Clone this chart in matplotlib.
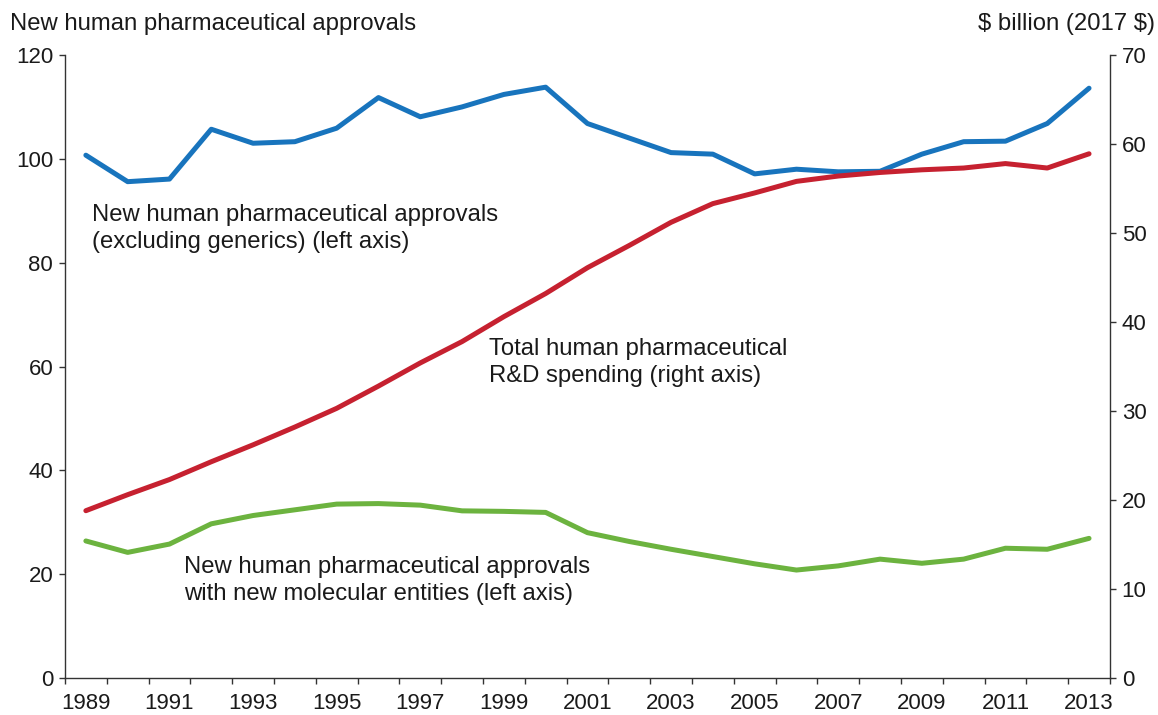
import numpy as np
import matplotlib.pyplot as plt
from matplotlib.ticker import FixedLocator, NullFormatter

plt.rcParams['font.family'] = ['Liberation Sans', 'DejaVu Sans']

# Data
years = list(range(1989, 2014))
approvals_total = [100.7, 95.6, 96.1, 105.7, 103.0, 103.3, 105.9, 111.8, 108.1, 110.0,
                   112.4, 113.8, 106.8, 104.0, 101.2, 100.9, 97.1, 98.0, 97.5, 97.6,
                   100.9, 103.3, 103.4, 106.8, 113.6]
approvals_nme = [26.4, 24.2, 25.8, 29.7, 31.3, 32.4, 33.5, 33.6, 33.3, 32.2,
                 32.1, 31.9, 28.0, 26.3, 24.8, 23.4, 22.0, 20.8, 21.6, 22.9,
                 22.1, 22.9, 25.0, 24.8, 26.9]
rd_spending = [18.8, 20.6, 22.3, 24.3, 26.2, 28.2, 30.3, 32.8, 35.4, 37.8,
               40.6, 43.2, 46.1, 48.6, 51.2, 53.3, 54.5, 55.8, 56.4, 56.8,
               57.1, 57.3, 57.8, 57.3, 58.9]
year_labels = [str(y) for y in range(1989, 2014, 2)]

blue = '#1874bd'
red = '#c62130'
green = '#6cb33f'
txt = '#1a1a1a'
fs = 16      # tick labels
fs_txt = 17.2  # titles and annotations
lw = 3.6

fig = plt.figure(figsize=(11.58, 7.15), dpi=100)
ax = fig.add_axes([0.0561, 0.0517, 0.9024, 0.8714])
ax2 = ax.twinx()

ax.plot(years, approvals_total, color=blue, lw=lw, solid_capstyle='round', zorder=3)
ax.plot(years, approvals_nme, color=green, lw=lw, solid_capstyle='round', zorder=3)
ax2.plot(years, rd_spending, color=red, lw=lw, solid_capstyle='round', zorder=2)

ax.set_xlim(1988.5, 2013.5)
ax.set_ylim(0, 120)
ax2.set_ylim(0, 70)
ax.set_yticks(range(0, 121, 20))
ax2.set_yticks(range(0, 71, 10))

# ticks at year boundaries, labels centred on odd years
ax.xaxis.set_major_locator(FixedLocator(np.arange(1988.5, 2014, 1)))
ax.xaxis.set_major_formatter(NullFormatter())
ax.xaxis.set_minor_locator(FixedLocator(range(1989, 2014, 2)))
ax.set_xticklabels(year_labels, minor=True)
ax.tick_params(axis='x', which='major', direction='out', length=4.5, width=1, color='#333333')
ax.tick_params(axis='x', which='minor', length=0, pad=11, labelsize=fs, labelcolor=txt)
ax.tick_params(axis='y', direction='out', length=4.5, width=1, color='#333333',
               labelsize=fs, labelcolor=txt, pad=4)
ax2.tick_params(axis='y', direction='out', length=4.5, width=1, color='#333333',
                labelsize=fs, labelcolor=txt, pad=4)

for a in (ax, ax2):
    a.spines['top'].set_visible(False)
    for s in ('left', 'right', 'bottom'):
        a.spines[s].set_color('#333333')
        a.spines[s].set_linewidth(1)
ax.spines['right'].set_visible(False)
ax2.spines['left'].set_visible(False)
ax2.spines['bottom'].set_visible(False)

fig.text(0.009, 0.966, 'New human pharmaceutical approvals', fontsize=fs_txt, color=txt,
         ha='left', va='center')
fig.text(0.997, 0.966, r'\$ billion (2017 \$)', fontsize=fs_txt, color=txt,
         ha='right', va='center')

ax.text(1989.15, 86.5, 'New human pharmaceutical approvals\n(excluding generics) (left axis)',
        fontsize=fs_txt, color=txt, ha='left', va='center', linespacing=1.3)
ax2.text(1998.65, 35.5, 'Total human pharmaceutical\nR&D spending (right axis)',
         fontsize=fs_txt, color=txt, ha='left', va='center', linespacing=1.3)
ax.text(1991.35, 18.8, 'New human pharmaceutical approvals\nwith new molecular entities (left axis)',
        fontsize=fs_txt, color=txt, ha='left', va='center', linespacing=1.3)

fig.savefig('out.png', dpi=100)
